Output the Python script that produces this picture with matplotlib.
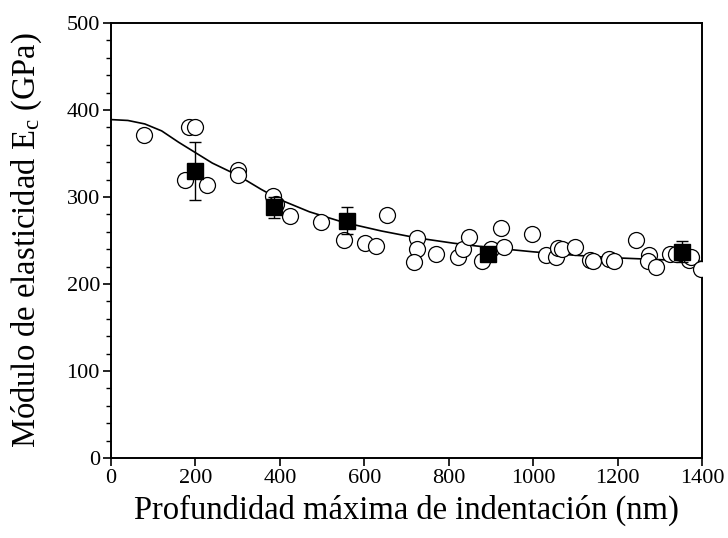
import numpy as np
import matplotlib.pyplot as plt
from matplotlib.ticker import MultipleLocator

plt.rcParams['font.family'] = ['Liberation Serif', 'DejaVu Serif']
plt.rcParams['mathtext.fontset'] = 'custom'
plt.rcParams['mathtext.rm'] = 'Liberation Serif'
plt.rcParams['mathtext.it'] = 'Liberation Serif'

# ensayos individuales (círculos abiertos)
prof_ind = [79, 185, 198, 176, 228, 301, 301, 383, 392, 425, 498, 553, 602, 628, 653,
            726, 724, 717, 770, 821, 834, 849, 878, 900, 923, 931, 997, 1030, 1055, 1058,
            1069, 1098, 1135, 1142, 1179, 1192, 1244, 1275, 1271, 1292, 1325, 1339, 1368,
            1374, 1398]
mod_ind = [371, 381, 381, 320, 314, 331, 325, 301, 292, 278, 271, 251, 247, 244, 279,
           253, 240, 225, 234, 231, 240, 254, 227, 240, 264, 242, 258, 233, 231, 241,
           240, 243, 228, 227, 229, 226, 251, 233, 226, 220, 235, 235, 228,
           231, 217]

# valores medios con barras de error (cuadrados)
prof_med = [200, 387, 558, 893, 1353]
mod_med = [330, 288, 273, 234, 237]
err_med = [33, 12, 15, 5, 12]

# curva de ajuste
prof_fit = [0, 40, 80, 120, 160, 200, 240, 300, 355, 400, 470, 550, 640, 725, 810,
            895, 1000, 1100, 1200, 1300, 1400]
mod_fit = [389, 388, 384, 376, 363, 351, 339, 325, 309, 297, 283, 271, 261, 253, 247,
           242, 237, 233, 230, 228, 226]

fig = plt.figure(figsize=(7.28, 5.38), dpi=100)
ax = fig.add_axes([0.1525, 0.1487, 0.8118, 0.8085])

ax.plot(prof_fit, mod_fit, color='black', linewidth=1.2, zorder=2)
ax.plot(prof_ind, mod_ind, 'o', markersize=11.5, markerfacecolor='white',
        markeredgecolor='black', markeredgewidth=0.9, zorder=3)
ax.errorbar(prof_med, mod_med, yerr=err_med, fmt='s', color='black', markersize=11.5,
            elinewidth=1.0, capsize=4, capthick=1.0, zorder=4)

ax.set_xlim(0, 1400)
ax.set_ylim(0, 500)
ax.xaxis.set_major_locator(MultipleLocator(200))
ax.yaxis.set_major_locator(MultipleLocator(100))
ax.yaxis.set_minor_locator(MultipleLocator(20))
ax.tick_params(axis='both', which='major', direction='out', length=6, width=1.2,
               labelsize=16, pad=2)
ax.tick_params(axis='y', which='minor', direction='out', length=3.3, width=1.0)
for s in ax.spines.values():
    s.set_linewidth(1.4)

ax.set_xlabel('Profundidad máxima de indentación (nm)', fontsize=23.5, labelpad=5)
ax.set_ylabel('Módulo de elasticidad E$_\\mathrm{c}$ (GPa)', fontsize=23.5, labelpad=16)

fig.savefig('out.png', dpi=100)
